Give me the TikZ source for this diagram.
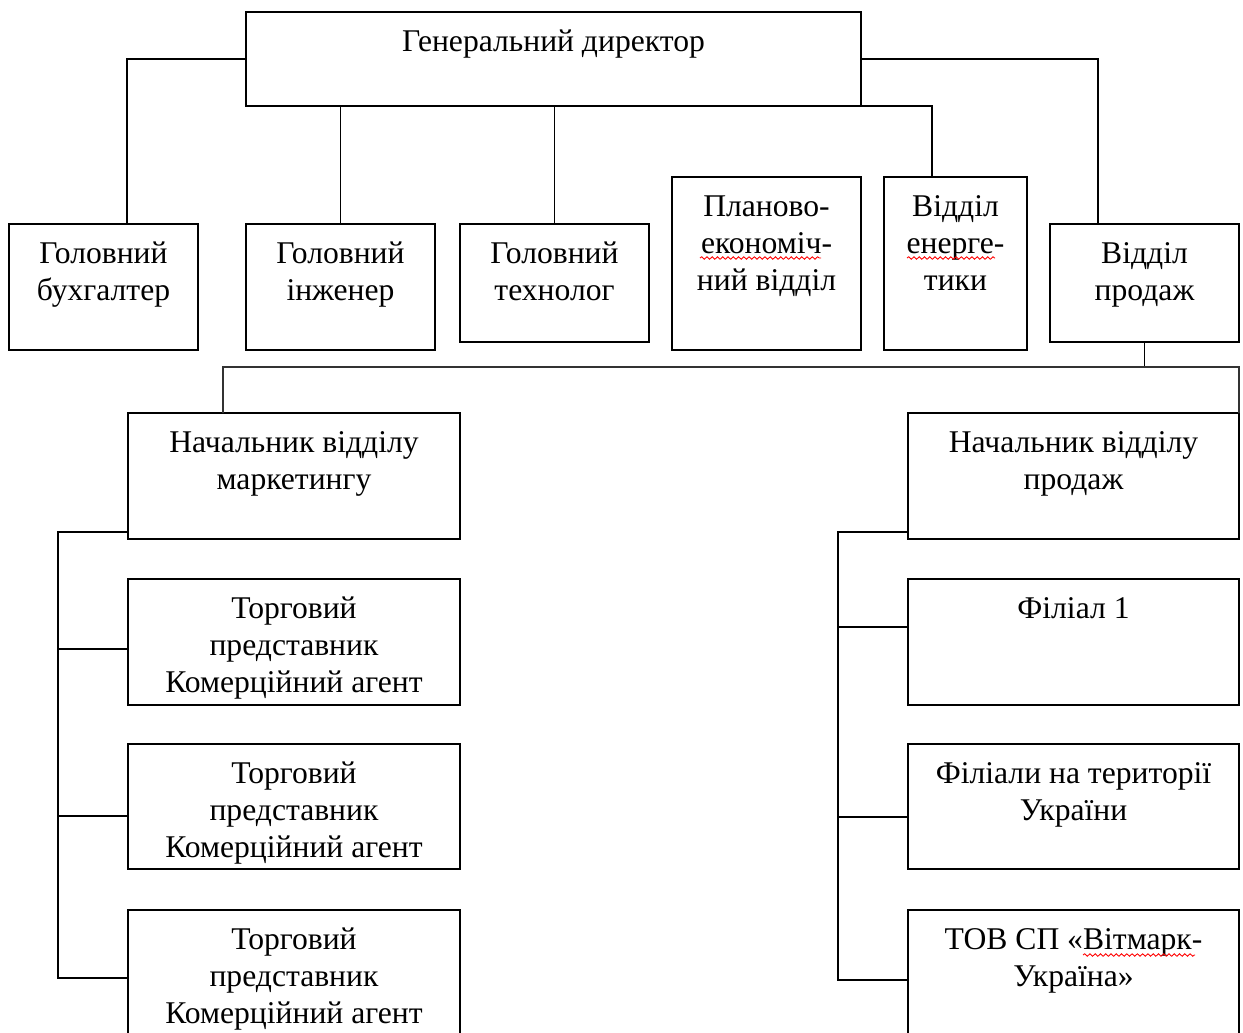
\documentclass[tikz,border=0pt]{standalone}
\usepackage{fontspec}
\setmainfont{Liberation Serif}
\usetikzlibrary{fit,calc,decorations.pathmorphing}
\tikzset{
  box/.style={draw, line width=1pt, inner sep=0pt, outer sep=0pt},
  lbl/.style={anchor=north, inner sep=0pt, align=center, font=\fontsize{18pt}{21pt}\selectfont},
  conn/.style={line width=1pt},
  spell/.style={red, line width=0.5pt, decorate, decoration={snake, amplitude=0.7pt, segment length=3pt}}
}
\newcommand\obox[6]{%
  \node[box, fit={(#2,#3) (#4,#5)}] (#1) {};
  \node[lbl] (#1-t) at (#1.north) {\rule{0pt}{0.78cm}#6};
}
\begin{document}
\begin{tikzpicture}[x=0.02cm, y=-0.02cm]
\useasboundingbox (0,0) rectangle (1243,1032);
\clip (0,0) rectangle (1243,1032);
% top level
\obox{gd}{246}{12}{861}{106}{Генеральний директор}
\obox{buh}{9}{224}{198}{350}{Головний\\бухгалтер}
\obox{inzh}{246}{224}{435}{350}{Головний\\інженер}
\obox{tech}{460}{224}{649}{342}{Головний\\технолог}
\obox{plan}{672}{177}{861}{350}{Планово-\\економіч-\\ний відділ}
\obox{energ}{884}{177}{1027}{350}{Відділ\\енерге-\\тики}
\obox{prod}{1050}{224}{1239}{342}{Відділ\\продаж}
% second level
\obox{mkt}{128}{413}{460}{539}{Начальник відділу\\маркетингу}
\obox{ta}{128}{579}{460}{705}{Торговий\\представник\\Комерційний агент}
\obox{tb}{128}{744}{460}{869}{Торговий\\представник\\Комерційний агент}
\obox{tc}{128}{910}{460}{1060}{Торговий\\представник\\Комерційний агент}
\obox{np}{908}{413}{1239}{539}{Начальник відділу\\продаж}
\obox{fa}{908}{579}{1239}{705}{Філіал 1}
\obox{fb}{908}{744}{1239}{869}{Філіали на території\\України}
\obox{tov}{908}{910}{1239}{1060}{ТОВ СП «Вітмарк-\\Україна»}
% connectors from director
\draw[conn] (gd.west) -| ($(buh.north)+(23.5,0)$);
\draw[conn] (inzh.north) -- (inzh.north |- gd.south);
\draw[conn] (tech.north) -- (tech.north |- gd.south);
\draw[conn] ($(plan.north)+(-23.5,0)$) -- ($(plan.north)+(-23.5,0)$ |- gd.south);
\draw[conn] (gd.south east) -| ($(energ.north)+(-23.5,0)$);
\draw[conn] (gd.east) -| ($(prod.north)+(-46.5,0)$);
% sales department bus
\coordinate (busL) at (223,367);
\coordinate (busR) at (1239,367);
\draw[conn] (prod.south) -- (prod.south |- busL);
\draw[conn, black!80] (mkt.north -| busL) -- (busL) -- (busR) -- (np.north east);
% marketing branch
\draw[conn] ($(mkt.south west)+(0,-7)$) -| ($(tc.north west)+(-70,68)$) -- ($(tc.north west)+(0,68)$);
\draw[conn] ($(ta.north west)+(0,70)$) -- +(-70,0);
\draw[conn] ($(tb.north west)+(0,72)$) -- +(-70,0);
% sales branch
\draw[conn] ($(np.south west)+(0,-7)$) -| ($(tov.north west)+(-70,70)$) -- ($(tov.north west)+(0,70)$);
\draw[conn] ($(fa.north west)+(0,48)$) -- +(-70,0);
\draw[conn] ($(fb.north west)+(0,73)$) -- +(-70,0);
% spell-check marks
\draw[spell] (700,258) -- (821,258);
\draw[spell] (907,258) -- (995,258);
\draw[spell] (1083,955) -- (1195,955);
\end{tikzpicture}
\end{document}
